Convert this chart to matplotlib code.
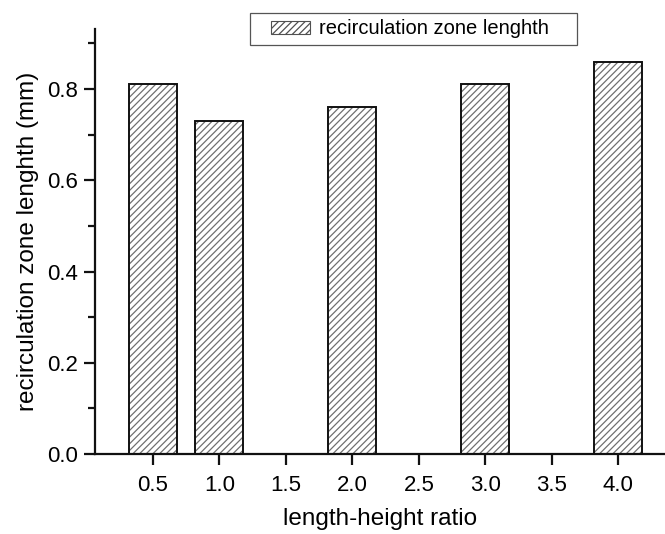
import numpy as np
import matplotlib
matplotlib.use('Agg')
import matplotlib.pyplot as plt
from matplotlib.ticker import MultipleLocator
from matplotlib.patches import Patch, Rectangle

# length-height ratio vs recirculation zone length
ratio = [0.5, 1.0, 2.0, 3.0, 4.0]
zone_length = [0.81, 0.73, 0.76, 0.81, 0.86]
xticks = [0.5, 1.0, 1.5, 2.0, 2.5, 3.0, 3.5, 4.0]

plt.rcParams['font.family'] = ['Liberation Sans', 'DejaVu Sans']
plt.rcParams['hatch.linewidth'] = 0.9

W, H = 665, 534
fig = plt.figure(figsize=(W/100, H/100), dpi=100)
ax = fig.add_axes([95/W, 80/H, 1 - 95/W, (454 - 29.3)/H])

# hatched fill first, then the black outline on top
ax.bar(ratio, zone_length, width=0.36, color='white', edgecolor='#707070',
       hatch='/////', linewidth=0)
ax.bar(ratio, zone_length, width=0.36, fill=False, edgecolor='#111111', linewidth=1.4)

ax.set_xlim(0.066, 4.35)
ax.set_ylim(0, 0.931)
ax.set_xticks(xticks)
ax.set_xticklabels(['%.1f' % t for t in xticks])
ax.yaxis.set_major_locator(MultipleLocator(0.2))
ax.yaxis.set_minor_locator(MultipleLocator(0.1))
ax.yaxis.set_major_formatter(plt.FormatStrFormatter('%.1f'))

for s in ['top', 'right']:
    ax.spines[s].set_visible(False)
for s in ['left', 'bottom']:
    ax.spines[s].set_linewidth(1.6)
    ax.spines[s].set_color('#111111')

ax.tick_params(axis='both', which='major', direction='out', length=8, width=1.6,
               labelsize=16, pad=4, color='#111111')
ax.tick_params(axis='y', which='minor', direction='out', length=5, width=1.6, color='#111111')
ax.tick_params(axis='x', which='major', pad=7)

ax.set_xlabel('length-height ratio', fontsize=17.5, labelpad=9)
ax.set_ylabel('recirculation zone lenghth (mm)', fontsize=17.5, labelpad=6)

# legend box drawn separately so the entry can sit inset from its left edge
fig.patches.append(Rectangle((250/W, 1 - 45/H), 327/W, 32/H, transform=fig.transFigure,
                             facecolor='white', edgecolor='#555555', linewidth=0.9))
handle = Patch(facecolor='white', edgecolor='#505050', hatch='/////', linewidth=0.8)
leg = fig.legend([handle], ['recirculation zone lenghth'],
                 loc='center left', bbox_to_anchor=(271/W, 1 - 29/H),
                 fontsize=14.5, frameon=False, borderaxespad=0, borderpad=0,
                 handlelength=1.95, handleheight=0.65, handletextpad=0.45)

fig.savefig('out.png', dpi=100)
